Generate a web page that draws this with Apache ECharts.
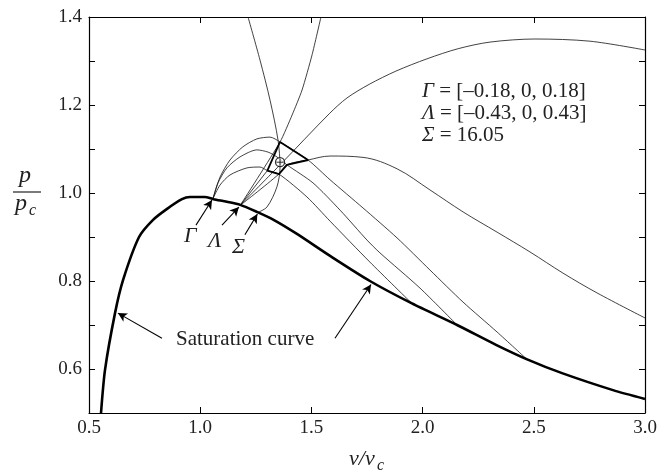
<!DOCTYPE html>
<html><head><meta charset="utf-8">
<script src="https://cdn.jsdelivr.net/npm/echarts@6/dist/echarts.min.js"></script>
<style>html,body{margin:0;padding:0;background:#fff}#c{width:663px;height:473px}</style>
</head><body><div id="c"></div>
<script>
// ---- data ----
const xTicks = [0.5, 1.0, 1.5, 2.0, 2.5, 3.0];
const yTickLabels = ['0.6', '0.8', '1.0', '1.2', '1.4'];

const satX = [0.554,0.572,0.617,0.653,0.725,0.788,0.851,0.918,0.954,1.02,1.06,1.12,1.18,1.255,1.33,1.435,1.584,1.763,1.952,2.155,2.33,2.47,2.63,2.856,3.0];
const satY = [0.5,0.598,0.727,0.802,0.9,0.939,0.964,0.986,0.991,0.991,0.986,0.98,0.973,0.957,0.939,0.907,0.857,0.80,0.749,0.70,0.655,0.622,0.59,0.552,0.532];

const gamma1X = [1.058,1.089,1.134,1.192,1.255,1.314,1.359,1.485,1.584,1.732,1.885,2.033,2.182,2.335,2.469];
const gamma1Y = [0.988,1.036,1.075,1.105,1.123,1.127,1.116,1.075,1.03,0.966,0.898,0.825,0.752,0.684,0.622];
const gamma2X = [1.058,1.08,1.12,1.179,1.255,1.305,1.345,1.39,1.507,1.629,1.75,1.808,1.988,2.155];
const gamma2Y = [0.988,1.023,1.057,1.082,1.098,1.093,1.082,1.064,1.023,0.961,0.893,0.864,0.784,0.70];
const gamma3X = [1.058,1.089,1.134,1.21,1.269,1.302,1.354,1.48,1.584,1.763,1.952];
const gamma3Y = [0.988,1.018,1.041,1.057,1.059,1.051,1.043,0.991,0.936,0.843,0.749];

const lambda1X = [1.18,1.359,1.413,1.458,1.503,1.543];
const lambda1Y = [0.972,1.116,1.177,1.234,1.314,1.40];
const lambda2X = [1.18,1.359,1.58,1.66,1.76,1.88,2.02,2.16,2.303,2.505,2.753,3.0];
const lambda2Y = [0.972,1.064,1.18,1.216,1.247,1.277,1.305,1.328,1.343,1.35,1.345,1.325];
const lambda3X = [1.18,1.354,1.39,1.485,1.584,1.732,1.885,2.033,2.182,2.335,2.483,2.631,2.784,3.0];
const lambda3Y = [0.972,1.043,1.064,1.075,1.084,1.081,1.055,1.007,0.957,0.911,0.866,0.818,0.773,0.716];
const lambda4X = [1.18,1.302];
const lambda4Y = [0.972,1.051];

const sigmaX = [1.255,1.30,1.345,1.359,1.35,1.314,1.269,1.215];
const sigmaY = [0.955,0.968,1.014,1.059,1.12,1.211,1.302,1.40];

const quadX = [1.359,1.485,1.39,1.354,1.302,1.359];
const quadY = [1.116,1.075,1.064,1.043,1.051,1.116];

const pointX = [1.359];
const pointY = [1.070];

// arrows: [fromX, fromY, toX, toY]
const arrows = [
  [0.981,0.927,1.053,0.984],
  [1.098,0.927,1.174,0.968],
  [1.201,0.905,1.257,0.952],
  [0.828,0.670,0.630,0.727],
  [1.606,0.670,1.768,0.792]
];

const paramLines = ['{i|Γ} = [–0.18, 0, 0.18]', '{i|Λ} = [–0.43, 0, 0.43]', '{i|Σ} = 16.05'];

// ---- chart ----
function pts(xs, ys){ return xs.map((x,i)=>[x, ys[i]]); }
const FONT = 'Liberation Serif';
const chart = echarts.init(document.getElementById('c'), null, {renderer:'canvas'});

function thin(name, xs, ys, smooth){
  return {type:'line', name, data:pts(xs,ys), showSymbol:false, symbol:'none', smooth:smooth,
    lineStyle:{color:'#111', width:0.8}, z:3, animation:false};
}

const axisCommon = {
  type:'value', splitLine:{show:false},
  axisLine:{show:true, onZero:false, lineStyle:{color:'#000', width:1.2}},
  axisTick:{show:true, inside:true, length:6, lineStyle:{color:'#000', width:1}}
};

const option = {
  animation:false,
  backgroundColor:'#fff',
  grid:{left:89, right:18, top:17, bottom:60, containLabel:false},
  xAxis:[
    Object.assign({}, axisCommon, {min:xTicks[0], max:xTicks[xTicks.length-1], interval:0.5, position:'bottom',
      axisLabel:{formatter:v=>v.toFixed(1), fontFamily:FONT, fontSize:19, color:'#222', margin:6}}),
    Object.assign({}, axisCommon, {min:xTicks[0], max:xTicks[xTicks.length-1], interval:0.5, position:'top',
      axisLabel:{show:false}})
  ],
  yAxis:[
    Object.assign({}, axisCommon, {min:0.5, max:1.4, interval:0.1, position:'left',
      axisLabel:{formatter:v=>{const s=v.toFixed(1); return yTickLabels.indexOf(s)>=0?s:'';},
        fontFamily:FONT, fontSize:19, color:'#222', margin:7}}),
    Object.assign({}, axisCommon, {min:0.5, max:1.4, interval:0.1, position:'right',
      axisLabel:{show:false}})
  ],
  series:[
    {type:'line', name:'saturation', data:pts(satX,satY), symbol:'none', smooth:0.25,
      lineStyle:{color:'#000', width:2.6}, z:4},
    thin('g1', gamma1X, gamma1Y, 0.25),
    thin('g2', gamma2X, gamma2Y, 0.25),
    thin('g3', gamma3X, gamma3Y, 0.25),
    thin('l1', lambda1X, lambda1Y, 0.2),
    thin('l2', lambda2X, lambda2Y, 0.3),
    thin('l3', lambda3X, lambda3Y, 0.35),
    thin('l4', lambda4X, lambda4Y, false),
    thin('s', sigmaX, sigmaY, 0.3),
    {type:'line', name:'quad', data:pts(quadX,quadY), symbol:'none', smooth:false,
      lineStyle:{color:'#000', width:1.8}, z:5},
    {type:'scatter', name:'pt', data:pts(pointX,pointY), symbol:'circle', symbolSize:9,
      itemStyle:{color:'#fff', borderColor:'#000', borderWidth:1.3}, z:6},
    {type:'scatter', name:'ptx', data:pts(pointX,pointY), symbol:'path://M5,0L5,10M0,5L10,5', symbolSize:7,
      itemStyle:{color:'none', borderColor:'#000', borderWidth:1}, z:7},
    {type:'line', name:'arrows', data:[], symbol:'none',
      markLine:{silent:true, symbol:['none','arrow'], symbolSize:[7,9], label:{show:false},
        lineStyle:{color:'#000', width:1.1, type:'solid'},
        data:arrows.map(a=>[{coord:[a[0],a[1]]},{coord:[a[2],a[3]]}])}}
  ],
  graphic:[
    // y-axis label fraction p / p_c
    {type:'text', left:19, top:164, style:{text:'p', font:'italic 24px '+FONT, fill:'#222'}},
    {type:'line', shape:{x1:13, y1:192, x2:41, y2:192}, style:{stroke:'#222', lineWidth:1.2}},
    {type:'text', left:15, top:192, style:{text:'p', font:'italic 24px '+FONT, fill:'#222'}},
    {type:'text', left:29, top:203, style:{text:'c', font:'italic 16px '+FONT, fill:'#222'}},
    // x-axis label v/v_c
    {type:'text', left:349, top:448, style:{text:'v/v', font:'italic 22px '+FONT, fill:'#222'}},
    {type:'text', left:377, top:458, style:{text:'c', font:'italic 16px '+FONT, fill:'#222'}},
    // arrow labels
    {type:'text', left:184, top:225, style:{text:'Γ', font:'italic 22px '+FONT, fill:'#222'}},
    {type:'text', left:208, top:230, style:{text:'Λ', font:'italic 22px '+FONT, fill:'#222'}},
    {type:'text', left:232, top:236, style:{text:'Σ', font:'italic 22px '+FONT, fill:'#222'}},
    {type:'text', left:176, top:329, style:{text:'Saturation curve', font:'21px '+FONT, fill:'#222'}},
    // parameter block
    {type:'text', left:422, top:80, style:{
      text:paramLines.join('\n'), font:'21px '+FONT, fill:'#222', lineHeight:22,
      rich:{i:{fontStyle:'italic', fontFamily:FONT, fontSize:21, lineHeight:22}}}}
  ]
};
chart.setOption(option);
</script></body></html>
